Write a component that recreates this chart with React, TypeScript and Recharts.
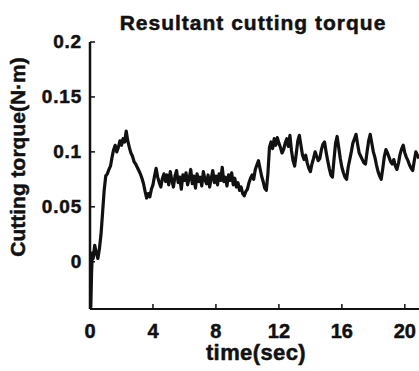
import { LineChart, Line, XAxis, YAxis } from "recharts";

// [time (sec), torque (N·m)]
const startUp: [number, number][] = [
  [0.0, 0.0], [0.05, -0.042], [0.1, -0.01], [0.15, 0.008], [0.2, 0.003], [0.3, 0.015],
  [0.4, 0.008], [0.5, 0.003], [0.6, 0.012], [0.7, 0.025], [0.8, 0.045], [0.9, 0.065],
  [1.0, 0.078], [1.1, 0.08], [1.2, 0.084], [1.3, 0.087], [1.4, 0.095], [1.5, 0.102],
  [1.6, 0.106], [1.7, 0.1], [1.8, 0.104], [1.9, 0.11], [2.0, 0.106], [2.1, 0.112],
  [2.2, 0.109], [2.3, 0.119], [2.4, 0.11], [2.5, 0.104], [2.6, 0.099], [2.7, 0.096],
  [2.8, 0.091], [2.9, 0.089], [3.0, 0.086], [3.1, 0.083], [3.2, 0.08], [3.3, 0.076],
  [3.4, 0.071], [3.5, 0.064], [3.6, 0.058], [3.7, 0.062], [3.8, 0.059], [3.9, 0.066],
];

const plateau: [number, number][] = [
  [4.0, 0.07], [4.1, 0.078], [4.2, 0.085], [4.3, 0.077], [4.4, 0.072], [4.5, 0.068],
  [4.6, 0.076], [4.7, 0.08], [4.8, 0.073], [4.9, 0.079], [5.0, 0.07], [5.1, 0.082],
  [5.2, 0.074], [5.3, 0.068], [5.4, 0.078], [5.5, 0.083], [5.6, 0.072], [5.7, 0.077],
  [5.8, 0.066], [5.9, 0.079], [6.0, 0.074], [6.1, 0.081], [6.2, 0.07], [6.3, 0.076],
  [6.4, 0.084], [6.5, 0.071], [6.6, 0.078], [6.7, 0.067], [6.8, 0.08], [6.9, 0.073],
  [7.0, 0.077], [7.1, 0.069], [7.2, 0.082], [7.3, 0.075], [7.4, 0.071], [7.5, 0.079],
  [7.6, 0.068], [7.7, 0.076], [7.8, 0.083], [7.9, 0.072], [8.0, 0.078], [8.1, 0.07],
  [8.2, 0.08], [8.3, 0.074], [8.4, 0.086], [8.5, 0.073], [8.6, 0.077], [8.7, 0.069],
  [8.8, 0.079], [8.9, 0.074], [9.0, 0.081], [9.1, 0.07], [9.2, 0.076], [9.3, 0.068],
  [9.4, 0.072], [9.5, 0.065], [9.6, 0.068], [9.7, 0.062], [9.8, 0.06], [9.9, 0.064],
];

const stepUp: [number, number][] = [
  [10.0, 0.066], [10.1, 0.072], [10.2, 0.076], [10.3, 0.079], [10.4, 0.075], [10.5, 0.084],
  [10.6, 0.088], [10.7, 0.092], [10.8, 0.085], [10.9, 0.078], [11.0, 0.073], [11.1, 0.067],
  [11.2, 0.065], [11.3, 0.08], [11.4, 0.104], [11.5, 0.109], [11.6, 0.103], [11.7, 0.112],
  [11.8, 0.106], [11.9, 0.113],
];

const upperBand: [number, number][] = [
  [12.0, 0.108], [12.1, 0.104], [12.2, 0.099], [12.3, 0.102], [12.4, 0.108], [12.5, 0.112],
  [12.6, 0.105], [12.7, 0.115], [12.8, 0.101], [12.9, 0.092], [13.0, 0.087], [13.1, 0.098],
  [13.2, 0.11], [13.3, 0.115], [13.4, 0.106], [13.5, 0.097], [13.6, 0.093], [13.7, 0.097],
  [13.8, 0.09], [13.9, 0.085], [14.0, 0.082], [14.1, 0.089], [14.2, 0.094], [14.3, 0.1],
  [14.4, 0.096], [14.5, 0.092], [14.6, 0.094], [14.7, 0.102], [14.8, 0.107], [14.9, 0.109],
  [15.0, 0.1], [15.1, 0.092], [15.2, 0.085], [15.3, 0.079], [15.4, 0.077], [15.5, 0.093],
  [15.6, 0.108], [15.7, 0.114], [15.8, 0.104], [15.9, 0.094], [16.0, 0.086], [16.1, 0.081],
  [16.2, 0.077], [16.3, 0.075], [16.4, 0.086], [16.5, 0.093], [16.6, 0.1], [16.7, 0.108],
  [16.8, 0.112], [16.9, 0.116], [17.0, 0.107], [17.1, 0.099], [17.2, 0.096], [17.3, 0.093],
  [17.4, 0.09], [17.5, 0.089], [17.6, 0.1], [17.7, 0.11], [17.8, 0.116], [17.9, 0.108],
  [18.0, 0.1], [18.1, 0.095], [18.2, 0.088], [18.3, 0.082], [18.4, 0.078], [18.5, 0.075],
  [18.6, 0.085], [18.7, 0.096], [18.8, 0.102], [18.9, 0.099], [19.0, 0.095], [19.1, 0.091],
  [19.2, 0.089], [19.3, 0.093], [19.4, 0.087], [19.5, 0.084], [19.6, 0.09], [19.7, 0.098],
  [19.8, 0.103], [19.9, 0.106], [20.0, 0.099], [20.1, 0.095], [20.2, 0.092], [20.3, 0.088],
  [20.4, 0.085], [20.5, 0.083], [20.6, 0.092], [20.7, 0.1], [20.8, 0.097], [20.9, 0.094],
];

const xTicks = [0, 4, 8, 12, 16, 20];
const yTicks = [0, 0.05, 0.1, 0.15, 0.2];
const yLabels: Record<string, string> = { "0": "0", "0.05": "0.05", "0.1": "0.1", "0.15": "0.15", "0.2": "0.2" };

const data = [...startUp, ...plateau, ...stepUp, ...upperBand].map(([t, v]) => ({ t, v }));

const FONT = "'Liberation Sans', Arial, sans-serif";
const INK = "#111";
// scanned print is a little heavier than plain bold
const heavy = { stroke: INK, strokeWidth: 0.5 };

function BottomTick({ x, y, payload }: any) {
  return (
    <g>
      <line x1={x} y1={y} x2={x} y2={y - 5} stroke={INK} strokeWidth={1.5} />
      <text x={x} y={y + 29} textAnchor="middle" fontSize={20} fontWeight="bold" fontFamily={FONT} fill={INK} {...heavy}>
        {payload.value}
      </text>
    </g>
  );
}

function TopTick({ x, y }: any) {
  return <line x1={x} y1={y} x2={x} y2={y + 5} stroke={INK} strokeWidth={1.5} />;
}

function LeftTick({ x, y, payload }: any) {
  return (
    <g>
      <line x1={x} y1={y} x2={x + 5} y2={y} stroke={INK} strokeWidth={1.5} />
      <text x={x - 8} y={y + 6} textAnchor="end" fontSize={19} fontWeight="bold" letterSpacing={0.8} fontFamily={FONT} fill={INK} {...heavy}>
        {yLabels[String(payload.value)]}
      </text>
    </g>
  );
}

export default function App() {
  return (
    <div style={{ position: "absolute", left: 0, top: 0, width: 419, height: 371, background: "#fff" }}>
      <LineChart width={419} height={371} data={data} margin={{ top: 42, right: 0, bottom: 0, left: 0 }}>
        <text x={253} y={30} textAnchor="middle" fontSize={21} fontWeight="bold" letterSpacing={1} fontFamily={FONT} fill={INK} {...heavy}>
          Resultant cutting torque
        </text>
        <text
          x={25}
          y={157}
          transform="rotate(-90, 25, 157)"
          textAnchor="middle"
          fontSize={21}
          fontWeight="bold"
          fontFamily={FONT}
          fill={INK}
          {...heavy}
        >
          Cutting torque(N·m)
        </text>
        <text x={256} y={360} textAnchor="middle" fontSize={22} fontWeight="bold" letterSpacing={0.4} fontFamily={FONT} fill={INK} {...heavy}>
          time(sec)
        </text>
        <XAxis
          dataKey="t"
          type="number"
          domain={[0, 20.9]}
          allowDataOverflow
          ticks={xTicks}
          height={62}
          tickSize={0}
          tickMargin={0}
          tickLine={false}
          tick={<BottomTick />}
          axisLine={{ stroke: INK, strokeWidth: 2 }}
          interval={0}
        />
        <XAxis
          xAxisId="top"
          orientation="top"
          dataKey="t"
          type="number"
          domain={[0, 20.9]}
          allowDataOverflow
          ticks={xTicks}
          height={0}
          tickSize={0}
          tickMargin={0}
          tickLine={false}
          tick={<TopTick />}
          axisLine={{ stroke: INK, strokeWidth: 1.5 }}
          interval={0}
        />
        <YAxis
          type="number"
          domain={[-0.043, 0.2]}
          allowDataOverflow
          ticks={yTicks}
          width={90}
          tickSize={0}
          tickMargin={0}
          tickLine={false}
          tick={<LeftTick />}
          axisLine={{ stroke: INK, strokeWidth: 2.5 }}
          interval={0}
        />
        <Line
          type="linear"
          dataKey="v"
          stroke={INK}
          strokeWidth={3.2}
          strokeLinejoin="round"
          dot={false}
          isAnimationActive={false}
        />
      </LineChart>
    </div>
  );
}
